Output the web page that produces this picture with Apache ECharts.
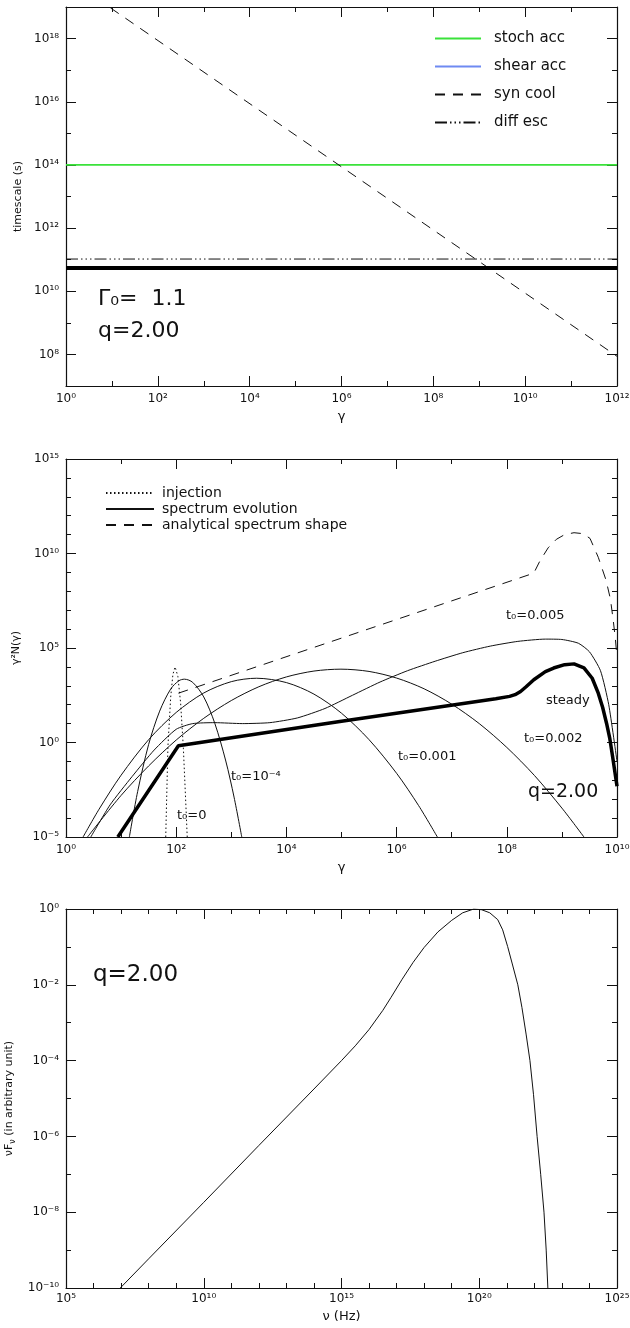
<!DOCTYPE html>
<html>
<head>
<meta charset="utf-8">
<script src="https://cdn.jsdelivr.net/npm/echarts@6/dist/echarts.min.js"></script>
<style>
  html, body { margin: 0; padding: 0; background: #fff; }
  #chart { width: 630px; height: 1328px; }
</style>
</head>
<body>
<div id="chart"></div>
<script>
// All curves are stored as log10 values and drawn on exponent axes labelled 10^n.
const FONT = "'DejaVu Sans', sans-serif";
const INK = '#111';

// ---- Panel 1: timescales vs Lorentz factor ----
const tsLogGamma   = [0, 12];
const stochAccLog  = [14, 14];
const shearAccLog  = [];              // above the plotted range
const synCoolLog   = [19.94, 7.94];
const diffEscLog   = [11.02, 11.02];
const netAccLog    = [10.74, 10.74];

// ---- Panel 2: particle spectra gamma^2 N(gamma) ----
const injLogG  = [1.81, 1.85, 1.90, 1.94, 1.98, 2.03, 2.08, 2.13, 2.18, 2.20];
const injLogN  = [-5, -0.2, 2.4, 3.6, 4.0, 3.5, 2.1, -0.3, -3.6, -5];

const t1LogG = [1.15, 1.3, 1.5, 1.7, 1.9, 2.05, 2.15, 2.3, 2.5, 2.7, 2.9, 3.05, 3.19];
const t1LogN = [-5, -2.6, -0.1, 1.66, 2.83, 3.27, 3.35, 3.18, 2.41, 1.02, -0.98, -2.89, -5];

const t2LogG = [0.31, 0.6, 1.0, 1.5, 2.0, 2.5, 3.0, 3.46, 4.0, 4.5, 5.0, 5.5, 6.0, 6.4, 6.74];
const t2LogN = [-5, -3.53, -1.73, 0.15, 1.59, 2.62, 3.22, 3.4, 3.17, 2.56, 1.55, 0.15, -1.63, -3.34, -5];

const t3LogG = [0.39, 1.0, 1.5, 2.0, 2.5, 3.0, 3.5, 4.0, 4.5, 4.99, 5.5, 6.0, 6.5, 7.0, 7.5, 8.0, 8.5, 9.0, 9.4];
const t3LogN = [-5, -2.8, -1.24, 0.13, 1.28, 2.22, 2.95, 3.47, 3.78, 3.88, 3.76, 3.41, 2.84, 2.03, 1.0, -0.26, -1.74, -3.47, -5];

const t4LogG = [0.45, 0.8, 1.2, 1.6, 2.0, 2.3, 2.7, 3.2, 3.7, 4.2, 4.7, 5.2, 5.7, 6.2, 6.7, 7.2, 7.7, 8.2, 8.7, 9.0, 9.3, 9.5, 9.7, 9.85, 10];
const t4LogN = [-5, -3.3, -1.8, -0.4, 0.7, 1.0, 1.05, 1.0, 1.05, 1.3, 1.8, 2.5, 3.2, 3.8, 4.3, 4.75, 5.1, 5.35, 5.47, 5.45, 5.25, 4.8, 3.8, 2.0, -1.0];

const steadyLogG = [0.94, 2.04, 5.0, 7.8, 8.05, 8.15, 8.25, 8.35, 8.49, 8.7, 8.85, 9.05, 9.22, 9.4, 9.55, 9.66, 9.74, 9.81, 9.87, 9.92, 10];
const steadyLogN = [-5, -0.17, 1.12, 2.32, 2.44, 2.53, 2.7, 2.95, 3.32, 3.75, 3.94, 4.12, 4.16, 3.95, 3.4, 2.61, 1.85, 1.02, 0.2, -0.74, -2.32];

const anaLogG = [2.04, 8.49, 8.6, 8.75, 8.9, 9.05, 9.22, 9.38, 9.51, 9.66, 9.8, 9.88, 9.93, 9.97, 10];
const anaLogN = [2.61, 8.96, 9.6, 10.3, 10.75, 11.0, 11.1, 11.05, 10.8, 9.8, 8.6, 7.6, 6.5, 5.5, 4.5];

// ---- Panel 3: synchrotron SED ----
const sedLogNu = [6.97, 8, 10, 12, 14, 15, 15.5, 16, 16.5, 16.8, 17.2, 17.6, 18, 18.5, 19, 19.4, 19.8,
                  20.09, 20.38, 20.67, 20.85, 21.03, 21.2, 21.4, 21.55, 21.7, 21.84, 21.97, 22.1, 22.23, 22.35, 22.43, 22.49];
const sedLogF  = [-10, -9.23, -7.74, -6.24, -4.75, -4.0, -3.61, -3.18, -2.675, -2.33, -1.854, -1.408, -1.014, -0.604, -0.299, -0.1, 0,
                  -0.02, -0.1, -0.28, -0.55, -0.99, -1.45, -2.0, -2.6, -3.3, -4.0, -4.9, -6.0, -7.0, -8.0, -9.0, -10];

// ---- helpers ----
const SUP = { '0': '⁰', '1': '¹', '2': '²', '3': '³', '4': '⁴', '5': '⁵', '6': '⁶', '7': '⁷', '8': '⁸', '9': '⁹', '-': '⁻' };
const decade = v => '10' + String(Math.round(v)).split('').map(c => SUP[c] || c).join('');
const pairs = (xs, ys) => xs.map((x, i) => [x, ys[i]]);

function axis(gridIndex, position, r, labelled, extra) {
  const a = {
    type: 'value', gridIndex, position, min: r.min, max: r.max,
    axisLine: { show: true, onZero: false, lineStyle: { color: INK, width: 1.2 } },
    axisTick: { show: true, inside: true, length: 10, lineStyle: { color: INK, width: 1 } },
    minorTick: { show: true, splitNumber: r.minor, length: 5, lineStyle: { color: INK, width: 1 } },
    splitLine: { show: false },
    minorSplitLine: { show: false },
    axisLabel: {
      show: labelled, formatter: decade, color: INK, fontFamily: FONT, fontSize: 12,
      margin: r.margin == null ? 7 : r.margin,
      showMinLabel: r.ends !== false, showMaxLabel: r.ends !== false
    },
    axisPointer: { show: false }
  };
  if (r.step) a.interval = r.step; else a.splitNumber = r.split;
  return Object.assign(a, extra || {});
}

const nameStyle = { color: INK, fontFamily: FONT, fontSize: 11 };
const xName = (name, gap) => ({ name, nameLocation: 'middle', nameGap: gap, nameTextStyle: Object.assign({}, nameStyle, { fontSize: 13 }) });
const yName = (name, gap, rich) => ({ name, nameLocation: 'middle', nameGap: gap, nameRotate: 90,
  nameTextStyle: Object.assign({}, nameStyle, rich ? { rich } : {}) });

const R1x = { min: 0, max: 12, step: 2, minor: 2 };
const R1y = { min: 7, max: 19, split: 6, minor: 2, ends: false };
const R2x = { min: 0, max: 10, step: 2, minor: 2 };
const R2y = { min: -5, max: 15, step: 5, minor: 5 };
const R3x = { min: 5, max: 25, step: 5, minor: 5, margin: 5 };
const R3y = { min: -10, max: 0, step: 2, minor: 2 };

const xAxis = [
  axis(0, 'bottom', R1x, true, xName('γ', 24)),
  axis(0, 'top', R1x, false),
  axis(1, 'bottom', R2x, true, xName('γ', 24)),
  axis(1, 'top', R2x, false),
  axis(2, 'bottom', R3x, true, xName('ν (Hz)', 22)),
  axis(2, 'top', R3x, false)
];
const yAxis = [
  axis(0, 'left', R1y, true, yName('timescale (s)', 36)),
  axis(0, 'right', R1y, false),
  axis(1, 'left', R2y, true, yName('γ²N(γ)', 42)),
  axis(1, 'right', R2y, false),
  axis(2, 'left', R3y, true, yName('{a|νF}{b|ν}{a| (in arbitrary unit)}', 42, {
    a: { fontSize: 11, fontFamily: FONT, color: INK },
    b: { fontSize: 8, fontFamily: FONT, color: INK, padding: [8, 0, 0, 0] }
  })),
  axis(2, 'right', R3y, false)
];

function line(name, g, xs, ys, color, width, type, z, smooth) {
  return {
    type: 'line', name, xAxisIndex: 2 * g, yAxisIndex: 2 * g,
    data: pairs(xs, ys), symbol: 'none', showSymbol: false, clip: true, silent: true,
    smooth: smooth || false,
    lineStyle: { color, width, type: type || 'solid' }, itemStyle: { color },
    z: z || 2, animation: false
  };
}

const GREEN = '#3ae23a';
const BLUE = '#6f8af2';
const DASH = [10, 8];
const DASH_DOT3 = [12, 3, 1.5, 3, 1.5, 3, 1.5, 3];

const series = [
  line('stoch acc', 0, tsLogGamma, stochAccLog, GREEN, 1.6),
  line('shear acc', 0, tsLogGamma.slice(0, shearAccLog.length), shearAccLog, BLUE, 2),
  line('syn cool', 0, tsLogGamma, synCoolLog, INK, 1, DASH),
  line('diff esc', 0, tsLogGamma, diffEscLog, INK, 1, DASH_DOT3),
  line('net acc', 0, tsLogGamma, netAccLog, '#000', 4),

  line('injection', 1, injLogG, injLogN, INK, 1, [1.5, 2.5]),
  line('spectrum evolution', 1, t1LogG, t1LogN, INK, 1, 'solid', 2, 0.3),
  line('spectrum evolution', 1, t2LogG, t2LogN, INK, 1, 'solid', 2, 0.3),
  line('spectrum evolution', 1, t3LogG, t3LogN, INK, 1, 'solid', 2, 0.3),
  line('spectrum evolution', 1, t4LogG, t4LogN, INK, 1, 'solid', 2, 0.2),
  line('analytical spectrum shape', 1, anaLogG, anaLogN, INK, 1, DASH),
  line('steady', 1, steadyLogG, steadyLogN, '#000', 3.5, 'solid', 3),

  line('SED', 2, sedLogNu, sedLogF, INK, 1)
];

const legendText = { fontFamily: FONT, color: INK };
const legend = [
  {
    orient: 'vertical', left: 434, top: 31, itemWidth: 46, itemHeight: 14, itemGap: 13,
    selectedMode: false, padding: 0,
    data: ['stoch acc', 'shear acc', 'syn cool', 'diff esc'],
    textStyle: Object.assign({ fontSize: 15, padding: [0, 0, 0, 8] }, legendText),
    itemStyle: { opacity: 0 }
  },
  {
    orient: 'vertical', left: 105, top: 486, itemWidth: 48, itemHeight: 12, itemGap: 2,
    selectedMode: false, padding: 0,
    data: ['injection', 'spectrum evolution', 'analytical spectrum shape'],
    textStyle: Object.assign({ fontSize: 14, padding: [0, 0, 0, 3] }, legendText),
    itemStyle: { opacity: 0 }
  }
];

const notes = [
  { x: 98, y: 288, size: 22, text: 'Γ₀=  1.1' },
  { x: 98, y: 320, size: 22, text: 'q=2.00' },
  { x: 506, y: 609, size: 13, text: 't₀=0.005' },
  { x: 546, y: 694, size: 13, text: 'steady' },
  { x: 524, y: 732, size: 13, text: 't₀=0.002' },
  { x: 398, y: 750, size: 13, text: 't₀=0.001' },
  { x: 231, y: 770, size: 13, text: 't₀=10⁻⁴' },
  { x: 177, y: 809, size: 13, text: 't₀=0' },
  { x: 528, y: 783, size: 19, text: 'q=2.00' },
  { x: 93, y: 964, size: 23, text: 'q=2.00' }
];

const gridBox = (top, height) => ({ left: 66, top, width: 551, height, outerBoundsMode: 'none', containLabel: false });

const chart = echarts.init(document.getElementById('chart'), null, { renderer: 'canvas' });
chart.setOption({
  backgroundColor: '#fff',
  animation: false,
  grid: [gridBox(7, 379), gridBox(459, 378), gridBox(909, 379)],
  xAxis, yAxis, series, legend,
  graphic: {
    elements: notes.map(n => ({
      type: 'text', left: n.x, top: n.y, silent: true,
      style: { text: n.text, fill: INK, fontSize: n.size, fontFamily: FONT }
    }))
  }
});
</script>
</body>
</html>
